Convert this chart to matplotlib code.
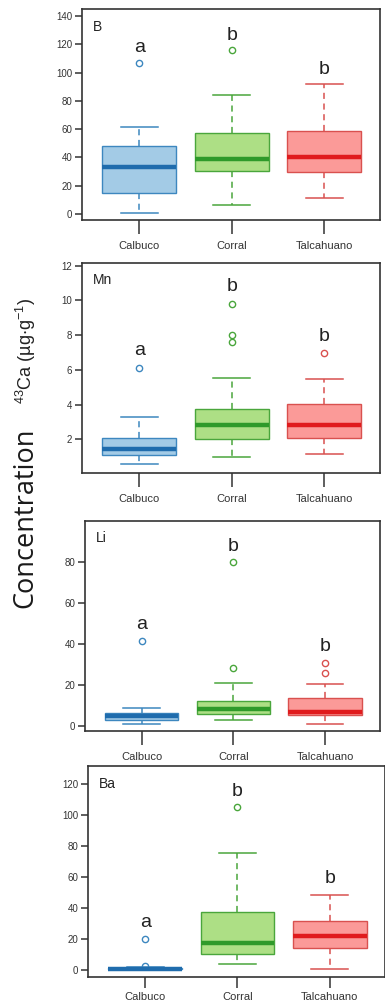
import matplotlib
matplotlib.use('Agg')
import matplotlib.pyplot as plt

plt.rcParams['font.family'] = ['Liberation Sans', 'DejaVu Sans']
plt.rcParams['mathtext.default'] = 'regular'

sites = ['Calbuco', 'Corral', 'Talcahuano']
letters = ['a', 'b', 'b']

# five-number summaries: low whisker, Q1, median, Q3, high whisker
B_low = [1, 6.5, 11]
B_q1 = [15, 30.5, 30]
B_med = [33, 39, 40.5]
B_q3 = [48, 57, 58.5]
B_high = [61.5, 84, 92]
B_out = [[107], [116], []]
B_let = [118, 126.5, 102]

Mn_low = [0.6, 1.0, 1.15]
Mn_q1 = [1.1, 2.0, 2.1]
Mn_med = [1.45, 2.8, 2.85]
Mn_q3 = [2.05, 3.75, 4.05]
Mn_high = [3.3, 5.55, 5.5]
Mn_out = [[6.1], [7.6, 8.0, 9.8], [6.95]]
Mn_let = [7.1, 10.8, 7.9]

Li_low = [1, 3, 0.8]
Li_q1 = [3, 5.5, 5]
Li_med = [4.5, 8, 6.5]
Li_q3 = [6, 12, 13.5]
Li_high = [8.5, 21, 20.5]
Li_out = [[41.5], [28, 80], [25.5, 30.5]]
Li_let = [49.5, 87.5, 38.5]

Ba_low = [0, 3.5, 0.5]
Ba_q1 = [0.2, 10, 14]
Ba_med = [0.6, 17, 21.5]
Ba_q3 = [1.0, 37, 31.5]
Ba_high = [1.5, 75, 48]
Ba_out = [[2, 19.5], [105], []]
Ba_let = [30.5, 115, 58.5]

panels = [
    ('B', B_low, B_q1, B_med, B_q3, B_high, B_out, B_let, [0, 20, 40, 60, 80, 100, 120, 140], (-4.3, 145)),
    ('Mn', Mn_low, Mn_q1, Mn_med, Mn_q3, Mn_high, Mn_out, Mn_let, [2, 4, 6, 8, 10, 12], (0.06, 12.16)),
    ('Li', Li_low, Li_q1, Li_med, Li_q3, Li_high, Li_out, Li_let, [0, 20, 40, 60, 80], (-2.6, 100)),
    ('Ba', Ba_low, Ba_q1, Ba_med, Ba_q3, Ba_high, Ba_out, Ba_let, [0, 20, 40, 60, 80, 100, 120], (-4.8, 131.4)),
]

fills = ['#a3cbe6', '#addf85', '#fb9a98']
edges = ['#3d87bf', '#4aa63c', '#d9514f']
meds = ['#1f6cad', '#2f9a2a', '#e01b1d']

# axes boxes in pixels: left, right, top, bottom
W, H = 385, 1006
boxes = [(82, 380, 9, 220), (82, 380, 263, 473), (85, 380, 521, 731), (88, 385, 766, 977)]

fig = plt.figure(figsize=(W / 100, H / 100), dpi=100)

for k, ((name, lo, q1, med, q3, hi, out, let, yt, ylim), (l, r, t, b)) in enumerate(zip(panels, boxes)):
    ax = fig.add_axes([l / W, 1 - b / H, (r - l) / W, (b - t) / H])
    for i in range(3):
        st = [dict(whislo=lo[i], q1=q1[i], med=med[i], q3=q3[i], whishi=hi[i], fliers=out[i])]
        ax.bxp(st, positions=[i + 1], widths=0.8, patch_artist=True,
               boxprops=dict(facecolor=fills[i], edgecolor=edges[i], linewidth=1.0),
               medianprops=dict(color=meds[i], linewidth=3.2, solid_capstyle='butt'),
               whiskerprops=dict(color=edges[i], linewidth=1.1, linestyle=(0, (4, 3))),
               capprops=dict(color=edges[i], linewidth=1.1), capwidths=0.4,
               flierprops=dict(marker='o', markersize=4.5, markerfacecolor='none',
                               markeredgecolor=edges[i], markeredgewidth=1.0))
        ax.text(i + 1, let[i], letters[i], ha='center', va='center', fontsize=14, color='#222222')
    ax.set_xlim(0.38, 3.6)
    ax.set_ylim(*ylim)
    ax.set_yticks(yt)
    ax.set_xticks([1, 2, 3])
    ax.set_xticklabels(sites)
    ax.tick_params(axis='y', length=5, width=1.1, pad=2, labelsize=7, colors='#333333')
    if k == 3:
        ax.tick_params(axis='x', length=8, width=1.1, pad=3, labelsize=8, colors='#333333')
    else:
        ax.tick_params(axis='x', length=10, width=1.1, pad=5, labelsize=8, colors='#333333')
    for s in ax.spines.values():
        s.set_linewidth(1.2)
        s.set_color('#333333')
    ax.text(0.037, 0.95, name, transform=ax.transAxes, ha='left', va='top', fontsize=10, color='#222222')

fig.text(25 / W, 1 - 518 / H, 'Concentration', rotation=90, ha='center', va='center',
         fontsize=19.5, family=['Open Sans', 'DejaVu Sans'], color='#1a1a1a')
fig.text(26 / W, 1 - 351 / H, '$^{43}$Ca (µg$\\cdot$g$^{-1}$)', rotation=90, ha='center', va='center',
         fontsize=13, color='#222222')

fig.savefig('out.png', dpi=100)
